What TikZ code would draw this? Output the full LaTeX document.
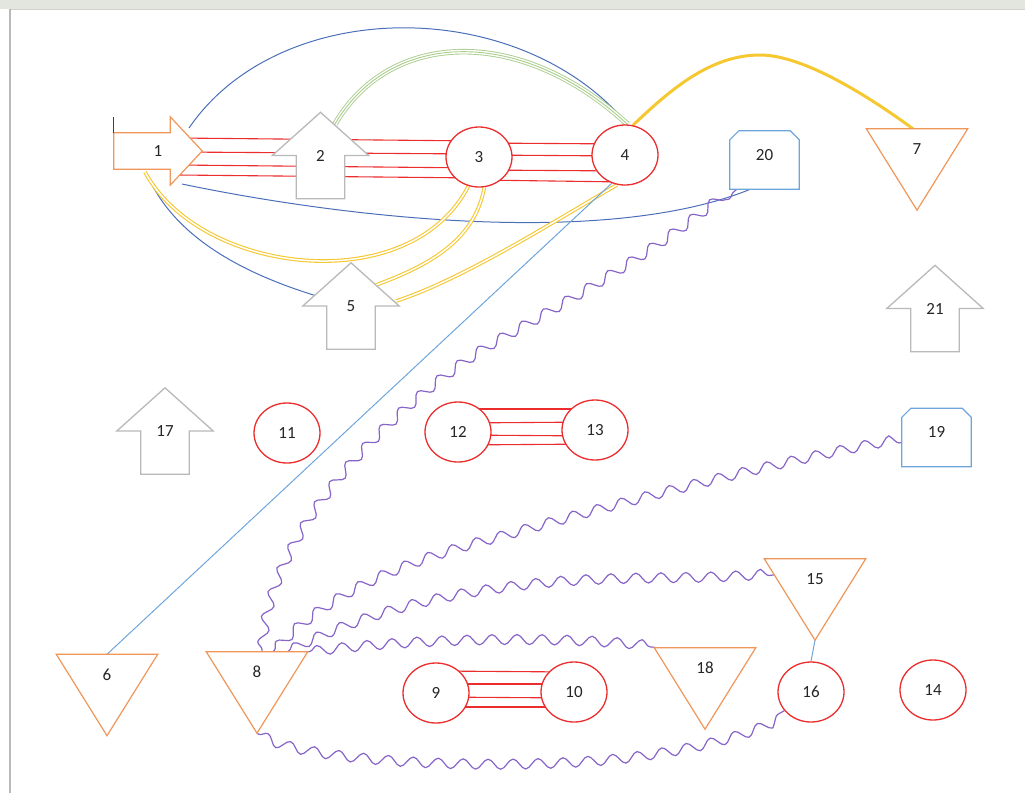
\documentclass[tikz,border=0pt]{standalone}
\usepackage{fontspec}
\setmainfont{Carlito}
\usetikzlibrary{shapes.geometric,decorations.pathmorphing}

\definecolor{redc}{RGB}{235,45,45}
\definecolor{orangec}{RGB}{240,150,90}
\definecolor{grayc}{RGB}{185,185,185}
\definecolor{bluec}{RGB}{75,110,185}
\definecolor{lblue}{RGB}{110,165,220}
\definecolor{greenc}{RGB}{170,205,140}
\definecolor{yellowc}{RGB}{245,200,50}
\definecolor{purplec}{RGB}{135,100,200}
\definecolor{bandc}{RGB}{226,230,222}

\pgfdeclarelayer{back}
\pgfdeclarelayer{shapes}
\pgfsetlayers{back,shapes,main}

\begin{document}
\begin{tikzpicture}[x=1pt, y=-1pt,
	font=\fontsize{17}{20}\selectfont, text=black!85,
	oval/.style={ellipse, draw=redc, line width=1.3pt, fill=white, minimum width=66pt, minimum height=60pt, inner sep=0pt},
	tribox/.style={minimum width=101pt, minimum height=81pt, inner sep=0pt, text depth=41pt},
	upbox/.style={minimum width=96pt, minimum height=86pt, inner sep=0pt},
	rbox/.style={minimum width=88pt, minimum height=68pt, inner sep=0pt},
	chambox/.style={minimum width=69pt, minimum height=58pt, inner sep=0pt, text depth=11pt},
	triline/.style={draw=orangec, line width=1.2pt, fill=white},
	arrline/.style={draw=grayc, line width=1.3pt, fill=white},
	boxline/.style={draw=lblue, line width=1.2pt, fill=white},
	bundle/.style={draw=redc, line width=1.1pt},
	bluecurve/.style={draw=bluec, line width=1pt},
	lightline/.style={draw=lblue, line width=1pt},
	ydouble/.style={draw=yellowc, line width=1.1pt, double=white, double distance=1.5pt},
	ythick/.style={draw=yellowc, line width=3pt},
	greentriple/.style={draw=greenc, line width=5.5pt, postaction={draw=white, line width=3.7pt}, postaction={draw=greenc, line width=0.9pt}},
	wavy/.style={draw=purplec, line width=1.2pt, decorate, decoration={snake, amplitude=5pt, segment length=25pt, pre length=2pt, post length=2pt}}]
	\useasboundingbox (0,0) rectangle (1025,793);

	% page frame
	\fill[bandc] (0,0) rectangle (1025,9);
	\draw[gray!35, line width=0.8pt] (10,9) -- (1025,9);
	\draw[gray!55, line width=2pt] (10,9) -- (10,793);

	% shapes
	\node[rbox] (a1) at (158,151) {1};
	\node[upbox] (a2) at (320.5,155.5) {2};
	\node[upbox] (a5) at (351,306) {5};
	\node[upbox] (a17) at (165,431) {17};
	\node[upbox] (a21) at (935,308.5) {21};
	\node[oval] (c3) at (479,157) {3};
	\node[oval] (c4) at (625,155) {4};
	\node[oval] (c11) at (287,433) {11};
	\node[oval] (c12) at (458,432) {12};
	\node[oval] (c13) at (595,430) {13};
	\node[oval] (c9) at (436,693) {9};
	\node[oval] (c10) at (574,692) {10};
	\node[oval] (c16) at (811,692) {16};
	\node[oval] (c14) at (933,690) {14};
	\node[tribox] (t6) at (107,695) {6};
	\node[tribox] (t7) at (917,169.5) {7};
	\node[tribox] (t8) at (257,692.5) {8};
	\node[tribox] (t15) at (815,599.5) {15};
	\node[tribox] (t18) at (705,688.5) {18};
	\node[chambox] (b20) at (764.5,160) {20};
	\node[chambox] (b19) at (936.5,437.5) {19};

	\begin{pgfonlayer}{shapes}
		\draw[orangec, line width=1.2pt, fill=white] ([shift={(0,16)}]a1.north west) -- ([shift={(-32,16)}]a1.north east) -- ([xshift=-32]a1.north east) -- (a1.east) -- ([xshift=-32]a1.south east) -- ([shift={(-32,-16)}]a1.south east) -- ([shift={(0,-16)}]a1.south west) -- cycle;
		\draw[black!75, line width=1.2pt] (a1.north west) -- ([shift={(0,16)}]a1.north west);
		\foreach \n in {a2,a5,a17,a21}
			\draw[arrline] (\n.north) -- (\n.east) -- ([xshift=-24]\n.east) -- ([xshift=-24]\n.south east) -- ([xshift=24]\n.south west) -- ([xshift=24]\n.west) -- (\n.west) -- cycle;
		\foreach \n in {t6,t7,t8,t15,t18}
			\draw[triline] (\n.north west) -- (\n.north east) -- (\n.south) -- cycle;
		\foreach \n in {b19,b20}
			\draw[boxline] ([shift={(0,9)}]\n.north west) -- ([xshift=9]\n.north west) -- ([xshift=-9]\n.north east) -- ([shift={(0,9)}]\n.north east) -- (\n.south east) -- (\n.south west) -- cycle;
	\end{pgfonlayer}

	\begin{pgfonlayer}{back}
		% red bundles
		\foreach \p/\q in {-13/-16, 1/-3, 14/11, 24/21}
			\draw[bundle] ([shift={(20,\p)}]a1.center) -- ([shift={(0,\q)}]c3.center);
		\foreach \p/\q in {-14/-11, -2/1, 13/16, 23/27}
			\draw[bundle] ([shift={(0,\p)}]c3.center) -- ([shift={(0,\q)}]c4.center);
		\foreach \p/\q in {-23/-21, -9/-8, 3/6, 13/14}
			\draw[bundle] ([shift={(0,\p)}]c12.center) -- ([shift={(0,\q)}]c13.center);
		\foreach \p/\q in {-22/-20, -9/-8, 4/6, 14/15}
			\draw[bundle] ([shift={(0,\p)}]c9.center) -- ([shift={(0,\q)}]c10.center);

		% curves round 1, 3, 4, 5
		\draw[bluecurve] ([shift={(31,-23)}]a1.center) .. controls (280,-5) and (520,-5) .. (c4.85);
		\draw[greentriple] ([shift={(14.5,-31.5)}]a2.center) .. controls (390,30) and (520,25) .. (c4.85);
		\draw[ythick] (c4.75) .. controls (670,90) and (710,55) .. (760,55) .. controls (800,55) and (860,90) .. ([xshift=-4]t7.north);
		\draw[bluecurve] ([shift={(24,33)}]a1.center) .. controls (330,215) and (600,250) .. ([xshift=-14]b20.south);
		\draw[bluecurve] ([shift={(-12,21)}]a1.center) .. controls (170,230) and (230,270) .. ([shift={(-31,-9)}]a5.center);
		\draw[ydouble] ([shift={(-13,21)}]a1.center) .. controls (200,275) and (410,300) .. (c3.250);
		\draw[ydouble] (c3.280) .. controls (475,240) and (430,265) .. ([shift={(25,-21)}]a5.center);
		\draw[ydouble] (c4.255) .. controls (540,230) and (460,280) .. ([shift={(-3,-5)}]a5.east);
		\draw[lightline] (t6.north) -- (c4.245);
		\draw[lightline] (t15.south) -- (c16.north);

		% wavy links from 8
		\draw[wavy] ([xshift=5]t8.north) .. controls (270,520) and (420,390) .. (500,345) .. controls (600,290) and (680,240) .. ([xshift=7]b20.south west);
		\draw[wavy] ([xshift=16]t8.north) .. controls (330,590) and (420,560) .. (500,540) .. controls (640,500) and (800,460) .. ([shift={(0,5)}]b19.west);
		\draw[wavy] ([xshift=30]t8.north) .. controls (350,620) and (420,600) .. (500,590) .. controls (600,575) and (700,585) .. ([shift={(10,16)}]t15.north west);
		\draw[wavy] (t8.north east) .. controls (400,640) and (550,635) .. ([xshift=4]t18.north west);
		\draw[wavy] (t8.south) .. controls (300,760) and (500,768) .. (620,755) .. controls (700,745) and (750,730) .. (c16.215);
	\end{pgfonlayer}
\end{tikzpicture}
\end{document}
